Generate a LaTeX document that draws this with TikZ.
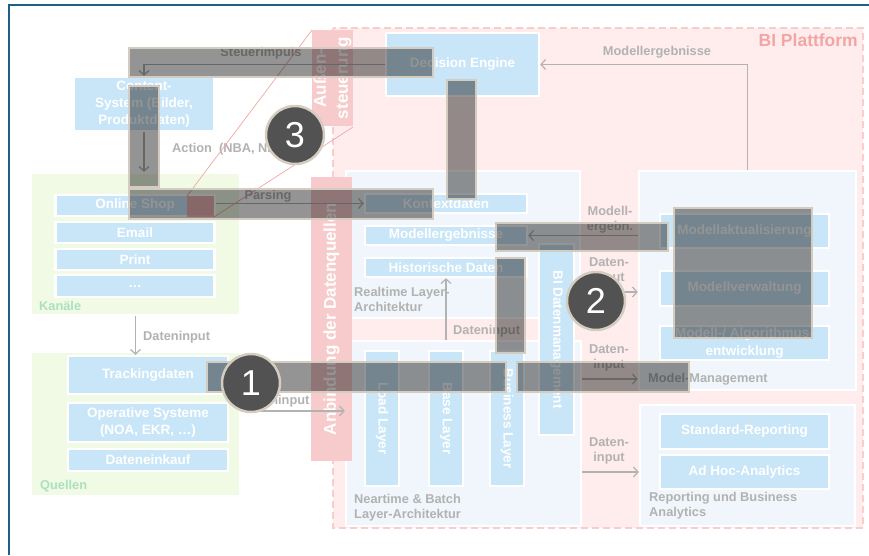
\documentclass[tikz,border=0pt]{standalone}
\usepackage{fontspec}
\setmainfont{Liberation Sans}
\usetikzlibrary{arrows.meta,shadows,calc}
\definecolor{frameblue}{RGB}{30,95,135}
\definecolor{pinkbg}{RGB}{255,237,237}
\definecolor{pinkdash}{RGB}{250,205,205}
\definecolor{barpink}{RGB}{247,203,203}
\definecolor{boxblue}{RGB}{200,230,247}
\definecolor{panelblue}{RGB}{240,246,251}
\definecolor{greenbg}{RGB}{240,250,228}
\definecolor{greenlbl}{RGB}{172,225,192}
\definecolor{lblgray}{RGB}{178,178,178}
\definecolor{arrgray}{RGB}{178,178,178}
\definecolor{bipink}{RGB}{242,165,165}
\definecolor{barborder}{RGB}{212,204,192}
\definecolor{numgray}{RGB}{82,82,82}
\definecolor{calloutred}{RGB}{245,165,165}
\newcommand\bxf{\fontsize{13.5}{17}\selectfont\bfseries}
\newcommand\lbf{\fontsize{12.8}{15}\selectfont\bfseries}
\newcommand\bigf{\fontsize{17}{22}\selectfont\bfseries}
\newcommand\numf{\fontsize{36}{40}\selectfont}
\begin{document}
\begin{tikzpicture}[x=1pt,y=-1pt,
  bluebox/.style={rectangle, fill=boxblue, draw=white, line width=2.5pt, text=white, font=\bxf, align=center, inner sep=0pt,
     drop shadow={shadow xshift=1pt, shadow yshift=-1pt, opacity=0.10}},
  panel/.style={rectangle, draw=white, line width=2.5pt, inner sep=0pt,
     drop shadow={shadow xshift=1pt, shadow yshift=-1pt, opacity=0.08}},
  greenpanel/.style={panel, fill=greenbg},
  bluepanel/.style={panel, fill=panelblue},
  pinkbarbox/.style={rectangle, fill=barpink, text=white, font=\bigf, align=center, inner sep=0pt},
  lbl/.style={text=lblgray, font=\lbf, inner sep=0pt, align=center},
  conn/.style={draw=arrgray, line width=1.2pt, -{Straight Barb[length=4.5pt,width=10pt]}},
  hlbar/.style={draw=barborder, line width=2.5pt, fill=black, fill opacity=0.42},
  numc/.style={circle, fill=numgray, draw=barborder, line width=2.5pt, text=white, font=\numf, minimum size=58pt, inner sep=0pt},
]
\useasboundingbox (0,0) rectangle (869,555);
\fill[white] (0,0) rectangle (869,555);
% frame
\draw[frameblue, line width=2pt] (9,555) -- (9,5) -- (869,5);
% BI Plattform
\draw[pinkdash, fill=pinkbg, line width=2.5pt, dash pattern=on 7pt off 4pt] (333,28) rectangle (863,528);
\node[anchor=east, text=bipink, font=\fontsize{17.5}{20}\selectfont\bfseries, inner sep=0pt] (biplabel) at (858,40) {BI Plattform};

% panels
\node[greenpanel, minimum width=209pt, minimum height=142pt] (kan) at (135.5,244) {};
\node[greenpanel, minimum width=209pt, minimum height=144pt] (quel) at (135.5,424) {};
\node[bluepanel, minimum width=234pt, minimum height=147pt] (rt) at (463,244.5) {};
\node[bluepanel, minimum width=235pt, minimum height=185pt] (nb) at (463.5,433.5) {};
\node[bluepanel, minimum width=217pt, minimum height=219pt] (mm) at (747.5,280.5) {};
\node[bluepanel, minimum width=215pt, minimum height=121pt] (rep) at (747.5,465.5) {};

% pink bars
\node[pinkbarbox, rotate=90, minimum width=96pt, minimum height=41pt] (aussen) at (332.5,78) {Außen-\\steuerung};
\node[pinkbarbox, rotate=90, minimum width=284pt, minimum height=41pt] (anb) at (331.5,319) {Anbindung der Datenquellen};

% blue boxes
\node[bluebox, minimum width=140pt, minimum height=54pt] (cs) at (144,104) {Content-\\System (Bilder,\\Produktdaten)};
\node[bluebox, minimum width=153pt, minimum height=63pt] (de) at (462.5,64.5) {Decision Engine};

\node[bluebox, minimum width=159pt, minimum height=21pt] (shop) at (135,205.5) {Online Shop};
\node[bluebox, minimum width=159pt, minimum height=21pt] (email) at (135,232.5) {Email};
\node[bluebox, minimum width=159pt, minimum height=21pt] (print) at (135,259.5) {Print};
\node[bluebox, minimum width=159pt, minimum height=22pt] (dots) at (135,286) {\dots};

\node[bluebox, minimum width=160pt, minimum height=38pt] (track) at (148,375) {Trackingdaten};
\node[bluebox, minimum width=160pt, minimum height=39pt] (ops) at (148,422.5) {Operative Systeme\\(NOA, EKR, \dots)};
\node[bluebox, minimum width=160pt, minimum height=22pt] (kauf) at (148,460) {Dateneinkauf};

\node[bluebox, minimum width=162pt, minimum height=19pt] (kontext) at (446,203.5) {Kontextdaten};
\node[bluebox, minimum width=162pt, minimum height=19pt] (modres) at (446,235.5) {Modellergebnisse};
\node[bluebox, minimum width=162pt, minimum height=19pt] (hist) at (446,267.5) {Historische Daten};

\node[bluebox, rotate=-90, minimum width=135pt, minimum height=34pt] (load) at (382,418.5) {Load Layer};
\node[bluebox, rotate=-90, minimum width=135pt, minimum height=34pt] (base) at (446,418.5) {Base Layer};
\node[bluebox, rotate=-90, minimum width=135pt, minimum height=34pt] (busi) at (507,418.5) {Business Layer};
\node[bluebox, rotate=-90, minimum width=191pt, minimum height=35pt] (bidm) at (556.5,339.5) {BI Datenmanagement};

\node[bluebox, minimum width=169pt, minimum height=34pt] (makt) at (744.5,231) {Modellaktualisierung};
\node[bluebox, minimum width=169pt, minimum height=35pt] (mverw) at (744.5,288.5) {Modellverwaltung};
\node[bluebox, minimum width=169pt, minimum height=34pt, font=\fontsize{13.5}{18}\selectfont\bfseries] (malg) at (744.5,343) {Modell-/ Algorithmus-\\entwicklung};

\node[bluebox, minimum width=169pt, minimum height=35pt] (stdrep) at (744.5,431.5) {Standard-Reporting};
\node[bluebox, minimum width=169pt, minimum height=34pt] (adhoc) at (744.5,472) {Ad Hoc-Analytics};

% panel labels
\node[lbl, text=greenlbl, anchor=west] (lkan) at (39,306) {Kanäle};
\node[lbl, text=greenlbl, anchor=west] (lquel) at (40,486) {Quellen};
\node[lbl, anchor=west, align=left] (lrt) at (354,299) {Realtime Layer-\\Architektur};
\node[lbl, anchor=west, align=left] (lnb) at (354,507.5) {Neartime \& Batch\\Layer-Architektur};
\node[lbl, anchor=west] (lmm) at (648,379) {Model-Management};
\node[lbl, anchor=west, align=left] (lrep) at (649,506) {Reporting und Business\\Analytics};

% helper coordinates
\coordinate (y292) at (0,292);
\coordinate (y379) at (0,379);
\coordinate (y472) at (0,472);
\coordinate (y411) at (0,411);

% connectors
\draw[conn] (mm.north) |- (de.east);
\node[lbl] (lmodres) at (657,52) {Modellergebnisse};
\draw[conn] (de.west) -| (cs.north);
\node[lbl] (lsteu) at (261,53) {Steuerimpuls};
\draw[conn] (cs.south) -- (cs.south |- kan.north);
\node[lbl, anchor=west] (lact) at (172,149) {Action~ (NBA, NBO)};
\draw[conn] (shop.east |- kontext.west) -- (kontext.west);
\node[lbl] (lpars) at (268,196) {Parsing};
\draw[conn] (kan.south) -- (kan.south |- track.north);
\node[lbl, anchor=west] (ldi1) at (143,337) {Dateninput};
\draw[conn] (quel.east |- y411) -- (nb.west |- y411);
\node[lbl] (ldi2) at (276,401) {Dateninput};
\draw[conn] (hist.south |- nb.north) -- (hist.south);
\node[lbl, anchor=west] (ldi3) at (453,331) {Dateninput};
\draw[conn] (mm.west |- modres.east) -- (modres.east);
\node[lbl] (lme) at (610,220) {Modell-\\ergebn.};
\draw[conn] (rt.east |- y292) -- (mm.west |- y292);
\node[lbl] (ldi4) at (609,271) {Daten-\\input};
\draw[conn] (nb.east |- y379) -- (mm.west |- y379);
\node[lbl] (ldi5) at (609,358) {Daten-\\input};
\draw[conn] (nb.east |- y472) -- (rep.west |- y472);
\node[lbl] (ldi6) at (609,451) {Daten-\\input};

% callout lines
\fill[calloutred, opacity=0.8] (187,196) rectangle (214,217);
\draw[calloutred, line width=0.7pt] (187,196) -- (312,30);
\draw[calloutred, line width=0.7pt] (214,217) -- (353,127);

% highlight bars
\draw[hlbar] (129,48) rectangle (433,77);
\draw[hlbar] (129,86) rectangle (159,187);
\draw[hlbar] (129,189) rectangle (433,219);
\draw[hlbar] (447,80) rectangle (476,199);
\draw[hlbar] (496,223) rectangle (668,251);
\draw[hlbar] (496,258) rectangle (525,353);
\draw[hlbar] (674,208) rectangle (812,338);
\draw[hlbar] (207,362) rectangle (506,392);
\draw[hlbar] (517,362) rectangle (689,392);

% numbered circles
\node[numc] (n1) at (251,383) {1};
\node[numc] (n2) at (596,301) {2};
\node[numc] (n3) at (295,135) {3};
\end{tikzpicture}
\end{document}
